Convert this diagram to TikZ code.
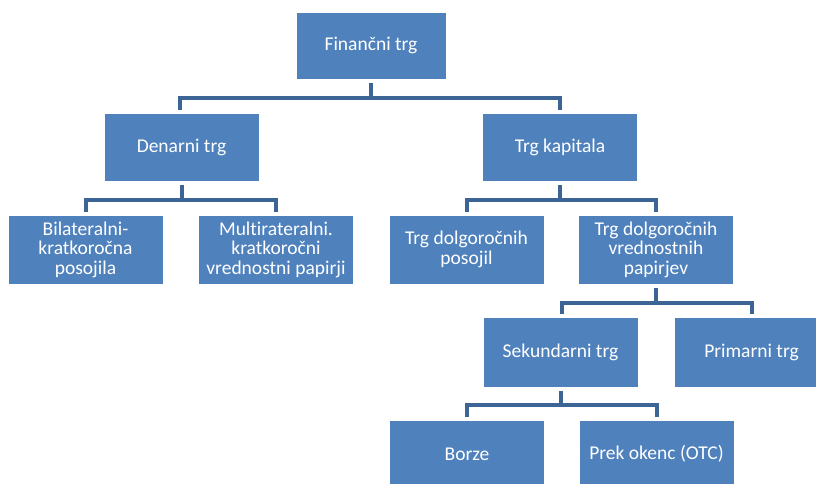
\documentclass[tikz,border=0pt]{standalone}
\usepackage{fontspec}
\setmainfont[Ligatures=NoCommon]{Carlito}
\definecolor{boxfill}{RGB}{79,129,189}
\definecolor{connc}{RGB}{60,100,148}
\tikzset{
  box/.style={draw=white, line width=0.8pt, fill=boxfill, text=white, align=center,
    minimum width=155pt, minimum height=69pt, inner sep=2pt,
    font=\fontsize{19.5pt}{19.5pt}\selectfont},
  conn/.style={draw=connc, line width=4pt, line join=miter}
}
\begin{document}
\begin{tikzpicture}[x=1pt,y=-1pt]
\useasboundingbox (0,0) rectangle (816,484);
\begin{scope}
\clip (0,0) rectangle (816,484);
\node[box, minimum width=150pt, minimum height=67pt] (fin) at (371,45.5) {Finančni trg};
\node[box, minimum height=68pt] (den) at (181.5,147) {Denarni trg};
\node[box, minimum height=68pt] (kap) at (560,147) {Trg kapitala};
\node[box] (bil) at (85.5,249.5) {Bilateralni-\\kratkoročna\\posojila};
\node[box] (mul) at (276,249.5) {Multirateralni.\\kratkoročni\\vrednostni papirji};
\node[box] (pos) at (466.5,249.5) {Trg dolgoročnih\\posojil};
\node[box] (vred) at (656,249.5) {Trg dolgoročnih\\vrednostnih\\papirjev};
\node[box, minimum height=70pt] (sek) at (560.5,352) {Sekundarni trg};
\node[box, minimum height=70pt] (pri) at (751.5,352) {Primarni trg};
\node[box, minimum height=68pt] (bor) at (467,454) {Borze};
\node[box, minimum height=68pt] (otc) at (656.5,454) {Prek okenc (OTC)};

% level 1
\draw[conn] ([yshift=-4pt]fin.south) -- (fin.south |- 0,98);
\draw[conn] ([yshift=3pt,xshift=-2pt]den.north) |- (0,98 -| kap.north) -- ([yshift=3pt]kap.north);
% level 2 left
\draw[conn] ([yshift=-4pt]den.south) -- (den.south |- 0,200);
\draw[conn] ([yshift=3pt]bil.north) |- (0,200 -| mul.north) -- ([yshift=3pt]mul.north);
% level 2 right
\draw[conn] ([yshift=-4pt]kap.south) -- (kap.south |- 0,200);
\draw[conn] ([yshift=3pt]pos.north) |- (0,200 -| vred.north) -- ([yshift=3pt]vred.north);
% level 3
\draw[conn] ([yshift=-4pt]vred.south) -- (vred.south |- 0,303);
\draw[conn] ([yshift=3pt,xshift=1pt]sek.north) |- (0,303 -| pri.north) -- ([yshift=3pt]pri.north);
% level 4
\draw[conn] ([yshift=-4pt]sek.south) -- (sek.south |- 0,405);
\draw[conn] ([yshift=3pt]bor.north) |- (0,405 -| otc.north) -- ([yshift=3pt]otc.north);
\end{scope}
\end{tikzpicture}
\end{document}
